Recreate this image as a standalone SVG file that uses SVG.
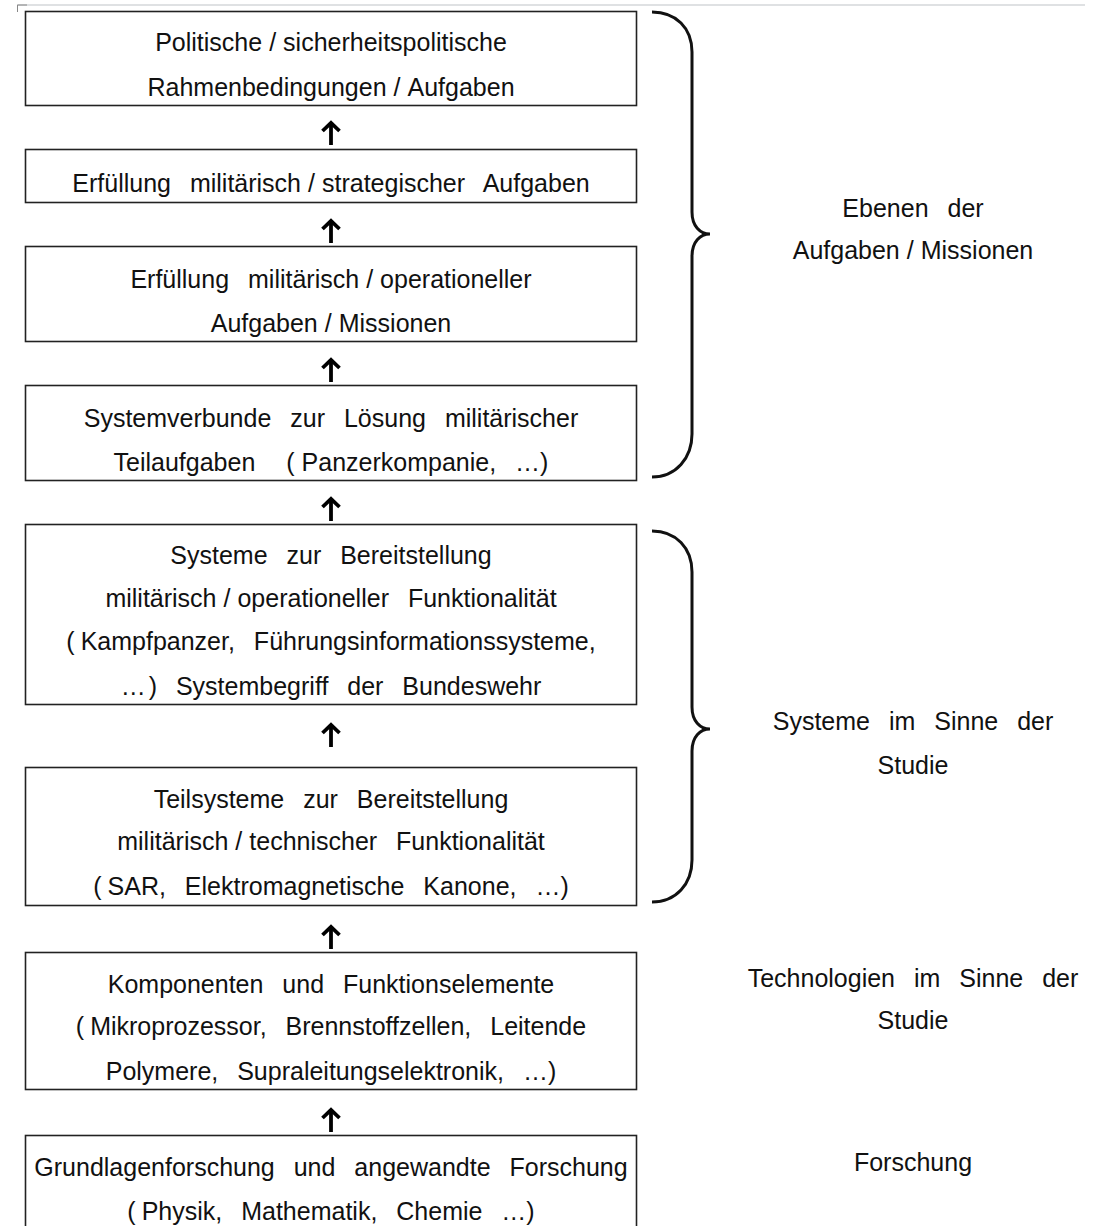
<svg xmlns="http://www.w3.org/2000/svg" width="1099" height="1226" viewBox="0 0 1099 1226">
<style>
.box{fill:#fff;stroke:#222;stroke-width:1.6}
.t{font-family:"Liberation Sans",Arial,"Noto Sans CJK SC",sans-serif;font-size:25px;fill:#111;text-anchor:middle;word-spacing:12px}
.br{fill:none;stroke:#111;stroke-width:3}
.arr{fill:none;stroke:#000;stroke-width:3.8}
</style>
<defs>
<g id="arrow"><polyline class="arr" points="-8.5,10 0,1.8 8.5,10"/><line class="arr" x1="0" y1="2" x2="0" y2="24"/></g>
</defs>
<rect width="1099" height="1226" fill="#fff"/>
<line x1="17" y1="5" x2="1085" y2="5" stroke="#d4d7da" stroke-width="1.5"/>
<path d="M17.5,12 L17.5,5 L27,5" fill="none" stroke="#888" stroke-width="1"/>
<g id="connectors">
<use href="#arrow" x="331" y="121"/>
<use href="#arrow" x="331" y="219"/>
<use href="#arrow" x="331" y="358"/>
<use href="#arrow" x="331" y="497"/>
<use href="#arrow" x="331" y="723"/>
<use href="#arrow" x="331" y="925"/>
<use href="#arrow" x="331" y="1108"/>
</g>
<g id="n1"><rect class="box" x="25.5" y="11.5" width="611" height="94"/>
<text class="t" x="331" y="51">Politische<tspan dx="7">/</tspan><tspan dx="7">sicherheitspolitische</tspan></text>
<text class="t" x="331" y="96">Rahmenbedingungen<tspan dx="7">/</tspan><tspan dx="7">Aufgaben</tspan></text></g>
<g id="n2"><rect class="box" x="25.5" y="149.5" width="611" height="53"/>
<text class="t" x="331" y="192">Erfüllung militärisch<tspan dx="7">/</tspan><tspan dx="7">strategischer Aufgaben</tspan></text></g>
<g id="n3"><rect class="box" x="25.5" y="246.5" width="611" height="95"/>
<text class="t" x="331" y="288">Erfüllung militärisch<tspan dx="7">/</tspan><tspan dx="7">operationeller</tspan></text>
<text class="t" x="331" y="332">Aufgaben<tspan dx="7">/</tspan><tspan dx="7">Missionen</tspan></text></g>
<g id="n4"><rect class="box" x="25.5" y="385.5" width="611" height="95"/>
<text class="t" x="331" y="427">Systemverbunde zur Lösung militärischer</text>
<text class="t" x="331" y="471">Teilaufgaben <tspan dx="12">(</tspan><tspan dx="7">Panzerkompanie, …)</tspan></text></g>
<g id="n5"><rect class="box" x="25.5" y="524.5" width="611" height="180"/>
<text class="t" x="331" y="564">Systeme zur Bereitstellung</text>
<text class="t" x="331" y="607">militärisch<tspan dx="7">/</tspan><tspan dx="7">operationeller Funktionalität</tspan></text>
<text class="t" x="331" y="650">(<tspan dx="6">Kampfpanzer, Führungsinformationssysteme,</tspan></text>
<text class="t" x="331" y="695">…<tspan dx="3">)</tspan> Systembegriff der Bundeswehr</text></g>
<g id="n6"><rect class="box" x="25.5" y="767.5" width="611" height="138"/>
<text class="t" x="331" y="808">Teilsysteme zur Bereitstellung</text>
<text class="t" x="331" y="850">militärisch<tspan dx="7">/</tspan><tspan dx="7">technischer Funktionalität</tspan></text>
<text class="t" x="331" y="895">(<tspan dx="6">SAR, Elektromagnetische Kanone, …)</tspan></text></g>
<g id="n7"><rect class="box" x="25.5" y="952.5" width="611" height="137"/>
<text class="t" x="331" y="993">Komponenten und Funktionselemente</text>
<text class="t" x="331" y="1035">(<tspan dx="6">Mikroprozessor, Brennstoffzellen, Leitende</tspan></text>
<text class="t" x="331" y="1080">Polymere, Supraleitungselektronik, …)</text></g>
<g id="n8"><rect class="box" x="25.5" y="1135.5" width="611" height="100"/>
<text class="t" x="331" y="1176" word-spacing="14">Grundlagenforschung und angewandte Forschung</text>
<text class="t" x="331" y="1220">(<tspan dx="6">Physik, Mathematik, Chemie …)</tspan></text></g>
<g id="brace1"><path class="br" d="M652,12 C676,12 692,28 692,52 L692,212 C692,226 700,234 710,234 C700,234 692,242 692,256 L692,434 C692,458 676,477 652,477"/></g>
<g id="brace2"><path class="br" d="M652,531 C676,531 692,548 692,572 L692,707 C692,721 700,729 710,729 C700,729 692,737 692,751 L692,860 C692,884 676,902 652,902"/></g>
<g id="label1"><text class="t" x="913" y="217">Ebenen der</text><text class="t" x="913" y="259">Aufgaben<tspan dx="7">/</tspan><tspan dx="7">Missionen</tspan></text></g>
<g id="label2"><text class="t" x="913" y="730">Systeme im Sinne der</text><text class="t" x="913" y="774">Studie</text></g>
<g id="label3"><text class="t" x="913" y="987">Technologien im Sinne der</text><text class="t" x="913" y="1029">Studie</text></g>
<g id="label4"><text class="t" x="913" y="1171">Forschung</text></g>
</svg>
